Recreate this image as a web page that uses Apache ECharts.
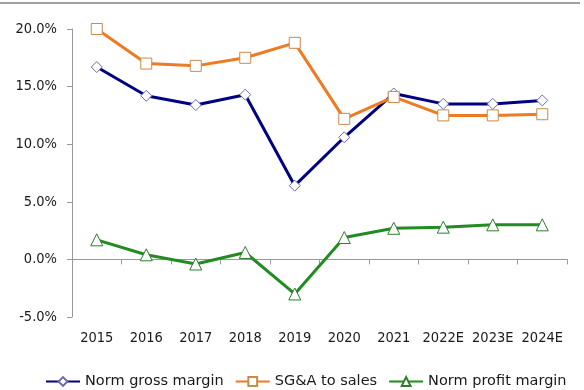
<!DOCTYPE html>
<html>
<head>
<meta charset="utf-8">
<script src="https://cdn.jsdelivr.net/npm/echarts@6/dist/echarts.min.js"></script>
<style>html,body{margin:0;padding:0;background:#fff}#c{width:584px;height:390px}</style>
</head>
<body>
<div id="c"></div>
<script>
const categories = ['2015','2016','2017','2018','2019','2020','2021','2022E','2023E','2024E'];
const grossMargin = [16.7, 14.2, 13.4, 14.3, 6.4, 10.6, 14.4, 13.5, 13.5, 13.8];
const sgaToSales = [20.0, 17.0, 16.8, 17.5, 18.8, 12.2, 14.1, 12.5, 12.5, 12.6];
const profitMargin = [1.7, 0.4, -0.4, 0.6, -3.0, 1.9, 2.7, 2.8, 3.0, 3.0];
const seriesNames = ['Norm gross margin', 'SG&A to sales', 'Norm profit margin'];

const FONT = '"DejaVu Sans Condensed", "DejaVu Sans", sans-serif';
const LEGEND_FONT = '"DejaVu Sans", sans-serif';
const chart = echarts.init(document.getElementById('c'), null, {renderer: 'canvas'});
function mk(name, data, lineColor, borderColor, symbol, size) {
  return {
    name: name, type: 'line', data: data, xAxisIndex: 0,
    symbol: symbol, symbolSize: size, showAllSymbol: true,
    lineStyle: {color: lineColor, width: 3},
    itemStyle: {color: '#ffffff', borderColor: borderColor, borderWidth: 1},
    emphasis: {disabled: true}, z: 3
  };
}
chart.setOption({
  animation: false,
  backgroundColor: '#ffffff',
  textStyle: {fontFamily: FONT},
  graphic: [{type: 'rect', shape: {x: 0, y: 2, width: 580, height: 2}, style: {fill: '#a0a0a0'}}],
  grid: {left: 72, right: 17, top: 29, bottom: 73, containLabel: false},
  legend: {
    top: 374, left: 45, width: 580, padding: 0, itemWidth: 34, itemHeight: 11, itemGap: 11,
    textStyle: {fontFamily: LEGEND_FONT, fontSize: 14.5, color: '#1a1a1a'},
    data: seriesNames
  },
  xAxis: [{
    type: 'category', data: categories, boundaryGap: true,
    axisLine: {onZero: true, lineStyle: {color: '#999999', width: 1}},
    axisTick: {show: true, length: 5, inside: false, lineStyle: {color: '#999999'}},
    axisLabel: {show: false}, splitLine: {show: false}
  }, {
    type: 'category', data: categories, position: 'bottom', boundaryGap: true,
    axisLine: {show: false, onZero: false}, axisTick: {show: false},
    axisLabel: {interval: 0, margin: 14, fontFamily: FONT, fontSize: 14.5, color: '#1a1a1a'}
  }],
  yAxis: {
    type: 'value', min: -5, max: 20, interval: 5,
    axisLine: {show: true, lineStyle: {color: '#999999'}},
    axisTick: {show: true, length: 5, lineStyle: {color: '#999999'}},
    splitLine: {show: false},
    axisLabel: {margin: 15, fontFamily: FONT, fontSize: 14.5, color: '#1a1a1a',
      formatter: v => v.toFixed(1) + '%'}
  },
  series: [
    mk(seriesNames[0], grossMargin, '#000080', '#6a6aae', 'diamond', 11),
    mk(seriesNames[1], sgaToSales, '#ee7a22', '#c98a4a', 'rect', 11),
    mk(seriesNames[2], profitMargin, '#228b22', '#2e7d2e', 'triangle', 12)
  ]
});
</script>
</body>
</html>
